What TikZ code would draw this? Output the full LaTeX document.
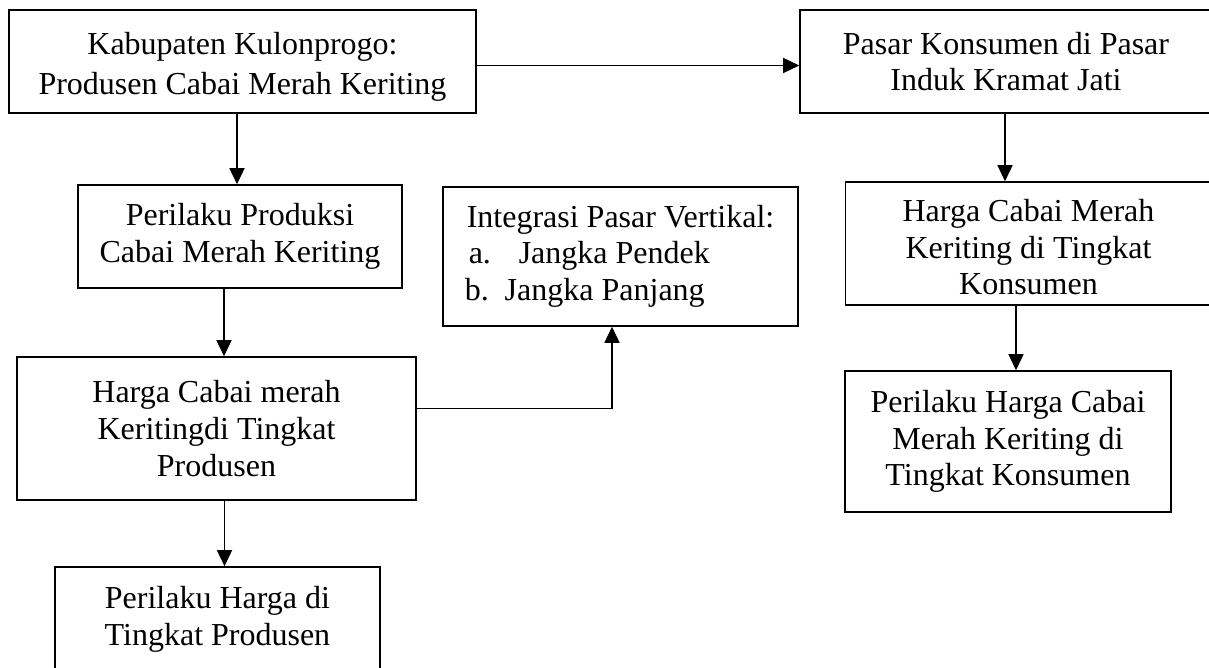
\documentclass[tikz,border=0pt]{standalone}
\usepackage{fontspec}
\setmainfont{Liberation Serif}
\usetikzlibrary{arrows.meta}
\tikzset{
  box/.style={draw=black, line width=0.8pt, inner sep=0pt, align=center,
    font=\fontsize{16pt}{18.4pt}\selectfont, text=black},
  lbl/.style={inner sep=0pt, align=center, text=black},
  arr/.style={draw=black, line width=0.8pt, -{Triangle[length=8pt,width=7.5pt]}}
}
\begin{document}
\begin{tikzpicture}[x=0.5pt,y=-0.5pt]
\useasboundingbox (0,0) rectangle (1209,668);
\clip (0,0) rectangle (1209,668);
\fill[white] (0,0) rectangle (1209,668);
% boxes
\node[box, minimum width=233.5pt, minimum height=51.5pt,
  label={[lbl, font=\fontsize{16pt}{20pt}\selectfont, yshift=-2.5pt]center:{Kabupaten Kulonprogo:\\Produsen Cabai Merah Keriting}}]
  (b1) at (242.5,61.5) {};
\node[box, minimum width=206pt, minimum height=51.5pt] (b2) at (1006,61.5)
  {Pasar Konsumen di Pasar\\Induk Kramat Jati};
\node[box, minimum width=162pt, minimum height=51.5pt] (b3) at (240,236.5)
  {Perilaku Produksi\\Cabai Merah Keriting};
\node[box, minimum width=177.5pt, minimum height=69.5pt] (b4) at (620.5,256.5)
  {\begin{tabular}{@{}l@{}}Integrasi Pasar Vertikal:\\
   \hspace{1pt}\makebox[25pt][l]{a.}Jangka Pendek\\
   \hspace{-1pt}\makebox[20pt][l]{b.}Jangka Panjang\end{tabular}};
\node[box, minimum width=183pt, minimum height=61.5pt,
  label={[lbl, font=\fontsize{16pt}{18.4pt}\selectfont, yshift=-1.8pt]center:{Harga Cabai Merah\\Keriting di Tingkat\\Konsumen}}]
  (b5) at (1028.5,243.5) {};
\node[box, minimum width=199.5pt, minimum height=71.5pt] (b6) at (216.5,428.5)
  {Harga Cabai merah\\Keritingdi Tingkat\\Produsen};
\node[box, minimum width=163pt, minimum height=70.5pt] (b7) at (1008,441.5)
  {Perilaku Harga Cabai\\Merah Keriting di\\Tingkat Konsumen};
\node[box, minimum width=162.5pt, minimum height=52.5pt] (b8) at (217.5,619.5)
  {Perilaku Harga di\\Tingkat Produsen};
% connectors
\draw[arr] ([yshift=-2pt]b1.east) -- ([yshift=-2pt]b2.west);
\draw[arr] ([xshift=-1.5pt]b3.north |- b1.south) -- ([xshift=-1.5pt]b3.north);
\draw[arr] ([xshift=-8pt]b3.south) -- ([xshift=-8pt]b3.south |- b6.north);
\draw[arr] ([xshift=4pt]b6.south) -- ([xshift=4pt]b6.south |- b8.north);
\draw[arr] ([yshift=10pt]b6.east) -| ([xshift=-4.25pt]b4.south);
\draw[arr] ([xshift=-0.5pt]b2.south) -- ([xshift=-0.5pt]b2.south |- b5.north);
\draw[arr] ([xshift=4pt]b7.north |- b5.south) -- ([xshift=4pt]b7.north);
\end{tikzpicture}
\end{document}
